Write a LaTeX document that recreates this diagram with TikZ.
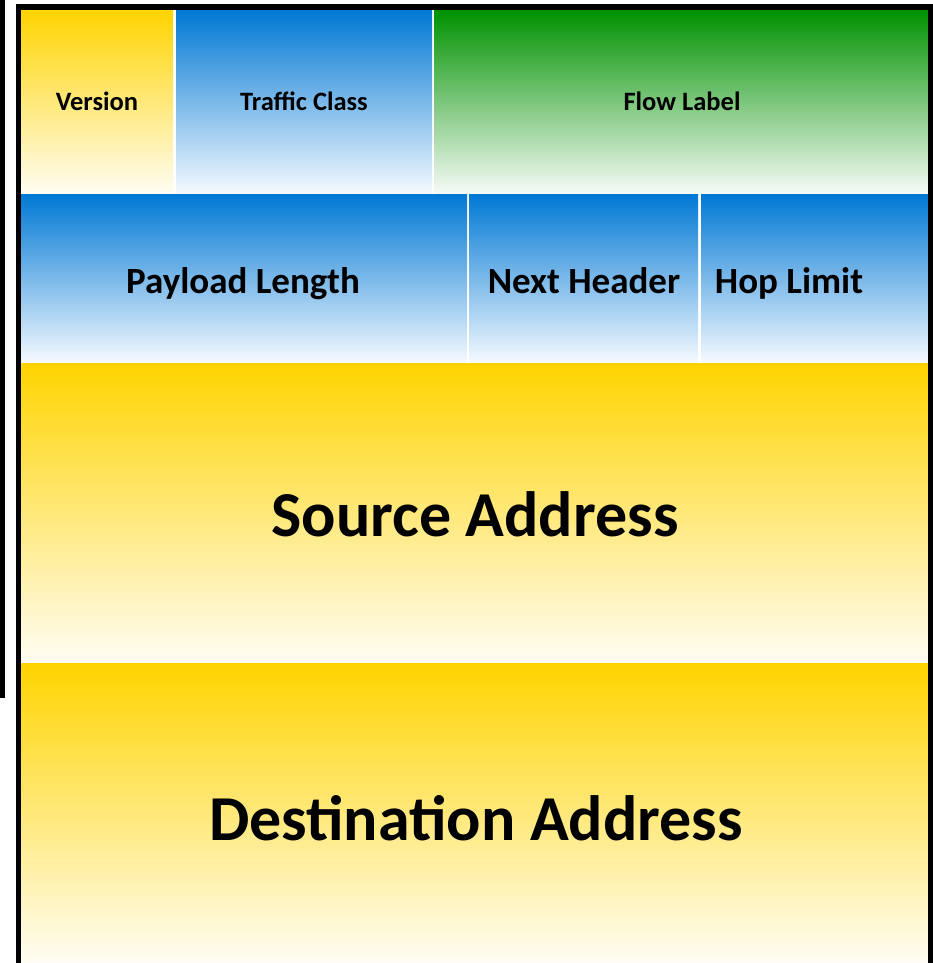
\documentclass[tikz,border=0pt]{standalone}
\usepackage{fontspec}
\setmainfont{Carlito}
\definecolor{ytop}{RGB}{255,212,0}
\definecolor{btop}{RGB}{0,120,212}
\definecolor{gtop}{RGB}{0,146,0}
\definecolor{ybot}{RGB}{255,253,244}
\definecolor{bbot}{RGB}{246,250,255}
\definecolor{gbot}{RGB}{248,251,248}
\begin{document}
\begin{tikzpicture}[x=1pt,y=-1pt,
  field/.style={draw=none,inner sep=0pt,outer sep=0pt,anchor=north west},
  yfield/.style={field,top color=ytop,bottom color=ybot},
  bfield/.style={field,top color=btop,bottom color=bbot},
  gfield/.style={field,top color=gtop,bottom color=gbot},
  lbl/.style={text=black,inner sep=0pt,anchor=base},
  small/.style={lbl,font=\bfseries\fontsize{26.5}{30}\selectfont},
  medium/.style={lbl,font=\bfseries\fontsize{37}{42}\selectfont},
  large/.style={lbl,font=\bfseries\fontsize{64}{70}\selectfont}]
\useasboundingbox (0,0) rectangle (933,963);
\fill[white] (0,0) rectangle (933,963);
% row 1
\node[yfield,minimum width=152pt,minimum height=184pt] (ver) at (21,10) {};
\node[bfield,minimum width=256pt,minimum height=184pt] (tc) at (176,10) {};
\node[gfield,minimum width=494pt,minimum height=184pt] (fl) at (434,10) {};
% row 2
\node[bfield,minimum width=446pt,minimum height=169pt] (pl) at (21,194) {};
\node[bfield,minimum width=229pt,minimum height=169pt] (nh) at (469,194) {};
\node[bfield,minimum width=227pt,minimum height=169pt] (hl) at (701,194) {};
% row 3, 4
\node[yfield,minimum width=907pt,minimum height=300pt] (src) at (21,363) {};
\node[yfield,minimum width=907pt,minimum height=300pt] (dst) at (21,663) {};
% frame
\fill[black] (16,4) rectangle (933,10);
\fill[black] (16,4) rectangle (21,963);
\fill[black] (928,4) rectangle (933,963);
\fill[black] (0,0) rectangle (5,698);
% labels
\node[small] (tver) at (97,110.5) {Version};
\node[small] (ttc) at (304,110.5) {Traffic Class};
\node[small] (tfl) at (682,110.5) {Flow Label};
\node[medium] (tpl) at (243,293) {Payload Length};
\node[medium] (tnh) at (584,293) {Next Header};
\node[medium] (thl) at (789,293) {Hop Limit};
\node[large] (tsrc) at (475,536) {Source Address};
\node[large] (tdst) at (476,840) {Destination Address};
\end{tikzpicture}
\end{document}
